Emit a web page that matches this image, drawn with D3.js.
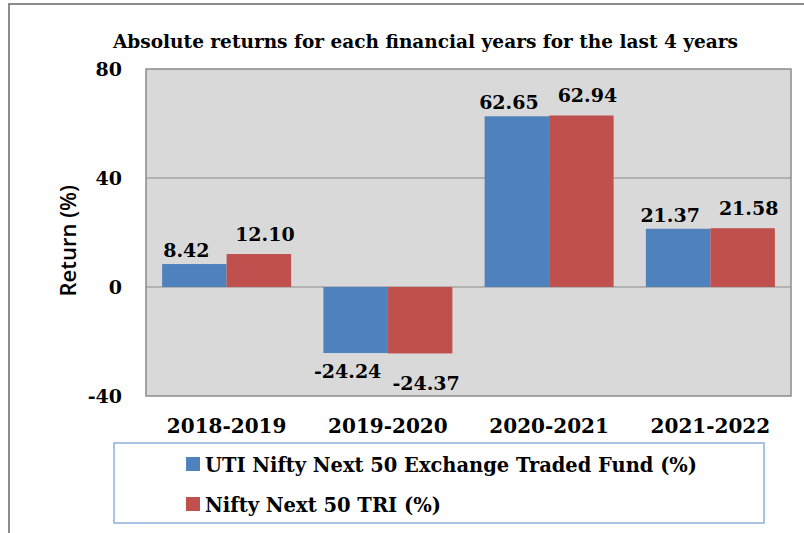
<!DOCTYPE html>
<html>
<head>
<meta charset="utf-8">
<script src="https://cdn.jsdelivr.net/npm/d3@7"></script>
<style>
  body { margin: 0; background: #fff; }
  svg { display: block; }
</style>
</head>
<body>
<svg id="chart" width="804" height="533"></svg>
<script>
// data
let years = ['2018-2019', '2019-2020', '2020-2021', '2021-2022']
let seriesNames = ['UTI Nifty Next 50 Exchange Traded Fund (%)', 'Nifty Next 50 TRI (%)']
let utiValues = [8.42, -24.24, 62.65, 21.37]
let triValues = [12.10, -24.37, 62.94, 21.58]
let yTicks = [-40, 0, 40, 80]
let colors = ['#4f81bd', '#c0504d']

let rows = years.map((y, i) => ({ year: y, values: [utiValues[i], triValues[i]] }))

let svg = d3.select('#chart')

// outer frame (runs off right and bottom)
svg.append('rect')
  .attr('x', 9).attr('y', 4)
  .attr('width', 900).attr('height', 600)
  .attr('fill', 'none')
  .attr('stroke', '#8c8c8c')
  .attr('stroke-width', 2)

let plot = { left: 146, right: 791, top: 69, bottom: 396 }

let x = d3.scaleBand().domain(years).range([plot.left, plot.right])
  .paddingInner(0.2).paddingOuter(0.1)
let x1 = d3.scaleBand().domain([0, 1]).range([0, x.bandwidth()])
let y = d3.scaleLinear().domain([-40, 80]).range([plot.bottom, plot.top])

// plot background
svg.append('rect')
  .attr('x', plot.left).attr('y', plot.top)
  .attr('width', plot.right - plot.left)
  .attr('height', plot.bottom - plot.top)
  .attr('fill', '#d9d9d9')
  .attr('stroke', '#8c8c8c')
  .attr('stroke-width', 1.5)

// gridlines
svg.append('g').selectAll('line')
  .data(yTicks.filter(t => t > -40 && t < 80))
  .enter().append('line')
  .attr('x1', plot.left).attr('x2', plot.right)
  .attr('y1', d => y(d)).attr('y2', d => y(d))
  .attr('stroke', '#8c8c8c')
  .attr('stroke-width', 1.2)

// y axis
let yAxis = svg.append('g')
  .attr('transform', 'translate(' + plot.left + ',0)')
  .call(d3.axisLeft(y).tickValues(yTicks).tickSize(0).tickPadding(24).tickFormat(d => String(d)))
yAxis.select('.domain').remove()
yAxis.selectAll('text')
  .attr('font-family', 'DejaVu Serif')
  .attr('font-weight', 'bold')
  .attr('font-size', 19)
  .attr('fill', '#000')

// x axis
let xAxis = svg.append('g')
  .attr('transform', 'translate(0,' + plot.bottom + ')')
  .call(d3.axisBottom(x).tickSize(0).tickPadding(23))
xAxis.select('.domain').remove()
xAxis.selectAll('text')
  .attr('font-family', 'DejaVu Serif')
  .attr('font-weight', 'bold')
  .attr('font-size', 20)
  .attr('fill', '#000')

// bars
let groups = svg.append('g').selectAll('g')
  .data(rows)
  .enter().append('g')
  .attr('transform', d => 'translate(' + x(d.year) + ',0)')

groups.selectAll('rect')
  .data(d => d.values.map((v, i) => ({ v: v, i: i })))
  .enter().append('rect')
  .attr('x', d => x1(d.i))
  .attr('width', x1.bandwidth())
  .attr('y', d => y(Math.max(0, d.v)))
  .attr('height', d => Math.abs(y(d.v) - y(0)))
  .attr('fill', d => colors[d.i])

// value labels, nudged apart like the original
let labelDx = [-8, 6]
let labelUp = [7, 13]
let labelDown = [25, 37]
groups.selectAll('text')
  .data(d => d.values.map((v, i) => ({ v: v, i: i })))
  .enter().append('text')
  .attr('x', d => x1(d.i) + x1.bandwidth() / 2 + labelDx[d.i])
  .attr('y', d => d.v >= 0 ? y(d.v) - labelUp[d.i] : y(d.v) + labelDown[d.i])
  .attr('text-anchor', 'middle')
  .attr('font-family', 'DejaVu Serif')
  .attr('font-weight', 'bold')
  .attr('font-size', 19)
  .attr('fill', '#000')
  .text(d => d.v.toFixed(2))

// title
svg.append('text')
  .attr('x', 113).attr('y', 48)
  .attr('textLength', 625)
  .attr('lengthAdjust', 'spacingAndGlyphs')
  .attr('font-family', 'DejaVu Serif')
  .attr('font-weight', 'bold')
  .attr('font-size', 19)
  .attr('fill', '#000')
  .text('Absolute returns for each financial years for the last 4 years')

// y axis title
svg.append('text')
  .attr('transform', 'translate(76,' + y(17) + ') rotate(-90)')
  .attr('text-anchor', 'middle')
  .attr('font-family', 'Open Sans')
  .attr('font-weight', 600)
  .attr('font-size', 22)
  .attr('fill', '#000')
  .text('Return (%)')

// legend
svg.append('rect')
  .attr('x', 114).attr('y', 443)
  .attr('width', 650).attr('height', 80)
  .attr('fill', '#fff')
  .attr('stroke', '#8eaedb')
  .attr('stroke-width', 1.5)

let legendWidths = [492, 236]
let legend = svg.append('g').selectAll('g')
  .data(seriesNames)
  .enter().append('g')
  .attr('transform', (d, i) => 'translate(186,' + (464 + i * 40) + ')')

legend.append('rect')
  .attr('x', 0).attr('y', -7)
  .attr('width', 14).attr('height', 14)
  .attr('fill', (d, i) => colors[i])

legend.append('text')
  .attr('x', 19).attr('y', 8)
  .attr('textLength', (d, i) => legendWidths[i])
  .attr('lengthAdjust', 'spacingAndGlyphs')
  .attr('font-family', 'DejaVu Serif')
  .attr('font-weight', 'bold')
  .attr('font-size', 20)
  .attr('fill', '#000')
  .text(d => d)
</script>
</body>
</html>
